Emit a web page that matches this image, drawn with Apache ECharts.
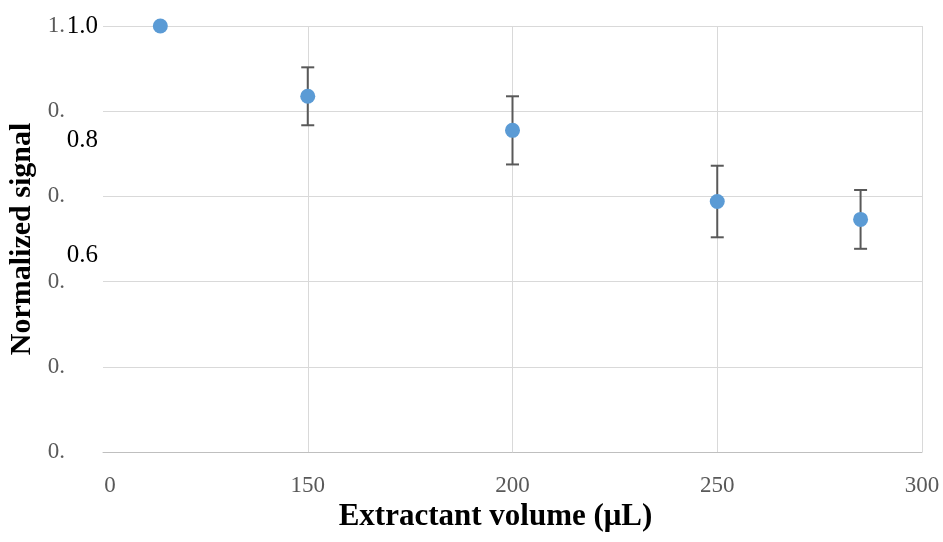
<!DOCTYPE html>
<html>
<head>
<meta charset="utf-8">
<script src="https://cdn.jsdelivr.net/npm/echarts@6/dist/echarts.min.js"></script>
<style>
  html, body { margin: 0; padding: 0; background: #fff; }
  #chart { width: 943px; height: 542px; }
</style>
</head>
<body>
<div id="chart"></div>
<script>
// 数据：萃取剂体积 vs 归一化信号
const volumes = [114, 150, 200, 250, 285];
const signals = [1.0, 0.835, 0.755, 0.588, 0.546];
const errors = [0, 0.068, 0.08, 0.084, 0.069];

// 轴刻度
const xTicks = [100, 150, 200, 250, 300];
const yTicks = [0, 0.2, 0.4, 0.6, 0.8, 1.0];
// 左侧叠加的黑色标签
const overlayTicks = [1.0, 0.8, 0.6];
const overlayLabels = ['1.0', '0.8', '0.6'];

const FONT = 'Liberation Serif';
const GREY = '#595959';

const chart = echarts.init(document.getElementById('chart'));

const points = volumes.map((v, i) => [v, signals[i]]);
const bars = volumes.map((v, i) => [v, signals[i] - errors[i], signals[i] + errors[i]]);

const option = {
  animation: false,
  grid: { left: 103, right: 21, top: 26, bottom: 90, outerBoundsMode: 'none' },
  xAxis: {
    type: 'value',
    min: xTicks[0],
    max: xTicks[xTicks.length - 1],
    interval: 50,
    name: 'Extractant volume (μL)',
    nameLocation: 'middle',
    nameGap: 33,
    nameTextStyle: {
      fontFamily: FONT, fontWeight: 'bold', fontSize: 31, color: '#000',
      padding: [0, 34, 0, 0]
    },
    axisLine: { show: true, lineStyle: { color: '#bfbfbf', width: 1 } },
    axisTick: { show: false },
    splitLine: { show: true, showMinLine: false, lineStyle: { color: '#d9d9d9', width: 1 } },
    axisLabel: {
      margin: 22,
      fontFamily: FONT, fontSize: 23, color: GREY,
      // 第一个刻度只剩下 "0"
      formatter: v => v === xTicks[0] ? '{first|0}' : String(v),
      rich: { first: { fontFamily: FONT, fontSize: 23, color: GREY, padding: [0, 0, 0, 14] } }
    }
  },
  yAxis: [
    {
      type: 'value',
      min: yTicks[0],
      max: yTicks[yTicks.length - 1],
      interval: 0.2,
      name: 'Normalized signal',
      nameLocation: 'middle',
      nameGap: 59,
      nameTextStyle: { fontFamily: FONT, fontWeight: 'bold', fontSize: 30, color: '#000' },
      axisLine: { show: false },
      axisTick: { show: false },
      splitLine: { show: true, lineStyle: { color: '#d9d9d9', width: 1 } },
      axisLabel: {
        margin: 38,
        fontFamily: FONT, fontSize: 23, color: GREY,
        padding: [7, 0, 0, 0],
        formatter: v => Math.floor(v + 1e-9) + '.'
      }
    },
    {
      type: 'value',
      position: 'left',
      min: 0.2567,
      max: 1.0,
      axisLine: { show: false },
      axisTick: { show: false },
      splitLine: { show: false },
      axisLabel: {
        customValues: overlayTicks,
        margin: 5,
        fontFamily: FONT, fontSize: 25, color: '#000',
        padding: [2, 0, 0, 0],
        formatter: v => overlayLabels[overlayTicks.findIndex(t => Math.abs(t - v) < 1e-6)] || ''
      }
    }
  ],
  series: [
    {
      type: 'custom',
      z: 3,
      data: bars,
      renderItem: function (params, api) {
        const x = api.value(0);
        const lo = api.coord([x, api.value(1)]);
        const hi = api.coord([x, api.value(2)]);
        if (Math.abs(lo[1] - hi[1]) < 1) return null;
        const w = 6.5;
        const style = { stroke: '#595959', lineWidth: 2 };
        return {
          type: 'group',
          children: [
            { type: 'line', shape: { x1: lo[0], y1: lo[1], x2: hi[0], y2: hi[1] }, style },
            { type: 'line', shape: { x1: lo[0] - w, y1: lo[1], x2: lo[0] + w, y2: lo[1] }, style },
            { type: 'line', shape: { x1: hi[0] - w, y1: hi[1], x2: hi[0] + w, y2: hi[1] }, style }
          ]
        };
      }
    },
    {
      type: 'scatter',
      z: 4,
      data: points,
      symbol: 'circle',
      symbolSize: 15,
      itemStyle: { color: '#5b9bd5', opacity: 1 }
    }
  ]
};

chart.setOption(option);
</script>
</body>
</html>
